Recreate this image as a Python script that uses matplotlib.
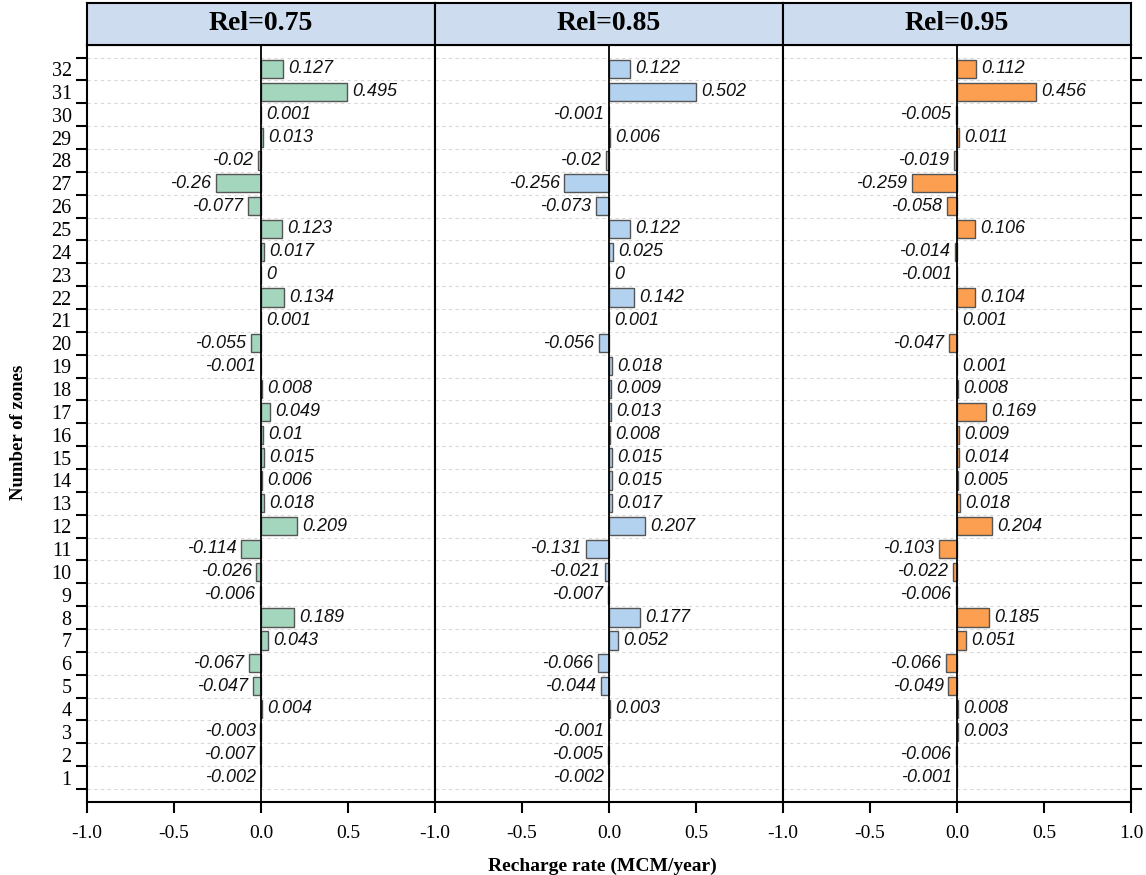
import matplotlib
matplotlib.use('Agg')
import matplotlib.pyplot as plt
import numpy as np

# zones 1..32 (bottom to top)
zones = np.arange(1, 33)

rel_labels = ['Rel=0.75', 'Rel=0.85', 'Rel=0.95']

rel075 = [-0.002, -0.007, -0.003, 0.004, -0.047, -0.067, 0.043, 0.189,
          -0.006, -0.026, -0.114, 0.209, 0.018, 0.006, 0.015, 0.01,
          0.049, 0.008, -0.001, -0.055, 0.001, 0.134, 0, 0.017,
          0.123, -0.077, -0.26, -0.02, 0.013, 0.001, 0.495, 0.127]
rel085 = [-0.002, -0.005, -0.001, 0.003, -0.044, -0.066, 0.052, 0.177,
          -0.007, -0.021, -0.131, 0.207, 0.017, 0.015, 0.015, 0.008,
          0.013, 0.009, 0.018, -0.056, 0.001, 0.142, 0, 0.025,
          0.122, -0.073, -0.256, -0.02, 0.006, -0.001, 0.502, 0.122]
rel095 = [-0.001, -0.006, 0.003, 0.008, -0.049, -0.066, 0.051, 0.185,
          -0.006, -0.022, -0.103, 0.204, 0.018, 0.005, 0.014, 0.009,
          0.169, 0.008, 0.001, -0.047, 0.001, 0.104, -0.001, -0.014,
          0.106, -0.058, -0.259, -0.019, 0.011, -0.005, 0.456, 0.112]

series = [rel075, rel085, rel095]
colors = ['#a3d6bd', '#b3d2f0', '#fd9f50']

plt.rcParams['font.family'] = 'Liberation Serif'

fig = plt.figure(figsize=(11.46, 8.75), dpi=100)

left0 = 87 / 1146
pw = 348 / 1146
bot = 1 - 801.5 / 875
ph = (801.5 - 45) / 875
hh = 42 / 875

for i, (vals, col, title) in enumerate(zip(series, colors, rel_labels)):
    ax = fig.add_axes([left0 + i * pw, bot, pw, ph])
    ax.barh(zones, vals, height=0.8, color=col, edgecolor='#555555', linewidth=1.0, zorder=3)
    ax.axvline(0, color='black', lw=1.3, zorder=4)
    for z, v in zip(zones, vals):
        if v >= 0:
            ax.text(v + 0.03, z, f'{v:g}', ha='left', va='center', fontsize=13,
                    family='Liberation Sans', style='italic', color='#111111', zorder=5)
        else:
            ax.text(v - 0.028, z, f'{v:g}', ha='right', va='center', fontsize=13,
                    family='Liberation Sans', style='italic', color='#111111', zorder=5)
    ax.set_xlim(-1, 1)
    ax.set_ylim(-0.05, 33.05)
    if i < 2:
        ax.set_xticks([-1, -0.5, 0, 0.5])
    else:
        ax.set_xticks([-1, -0.5, 0, 0.5, 1])
    ax.set_xticklabels([f'{t:.1f}' for t in ax.get_xticks()], fontsize=14)
    ax.set_yticks(np.arange(0.5, 33, 1))
    ax.set_yticklabels([])
    ax.yaxis.grid(True, ls=(0, (3, 3)), color='#d8d8d8', lw=0.8, zorder=0)
    ax.set_yticks(zones, minor=True)
    if i == 0:
        ax.set_yticklabels([str(z) for z in zones], minor=True, fontsize=14.5)
        ax.tick_params(axis='y', which='major', length=8, width=1.5, direction='out')
    elif i == 2:
        ax.yaxis.set_ticks_position('right')
        ax.tick_params(axis='y', which='major', length=8, width=1.5, direction='out')
        ax.set_yticklabels([], minor=True)
    else:
        ax.tick_params(axis='y', which='major', length=0)
        ax.set_yticklabels([], minor=True)
    ax.tick_params(axis='y', which='minor', length=0, pad=11)
    ax.tick_params(axis='x', length=8, width=1.5, direction='out', pad=9)
    for s in ax.spines.values():
        s.set_linewidth(1.5)

    hx = fig.add_axes([left0 + i * pw, bot + ph, pw, hh])
    hx.set_facecolor('#cddcee')
    hx.set_xticks([])
    hx.set_yticks([])
    for s in hx.spines.values():
        s.set_linewidth(1.5)
    hx.text(0.5, 0.5, title, ha='center', va='center', fontsize=20,
            fontweight='bold', transform=hx.transAxes)

fig.text(602 / 1146, 1 - 866 / 875, 'Recharge rate (MCM/year)', ha='center', va='center',
         fontsize=14, fontweight='bold')
fig.text(19 / 1146, 1 - 432 / 875, 'Number of zones', ha='center', va='center',
         rotation=90, fontsize=13.5, fontweight='bold')

fig.savefig('out.png', dpi=100)
